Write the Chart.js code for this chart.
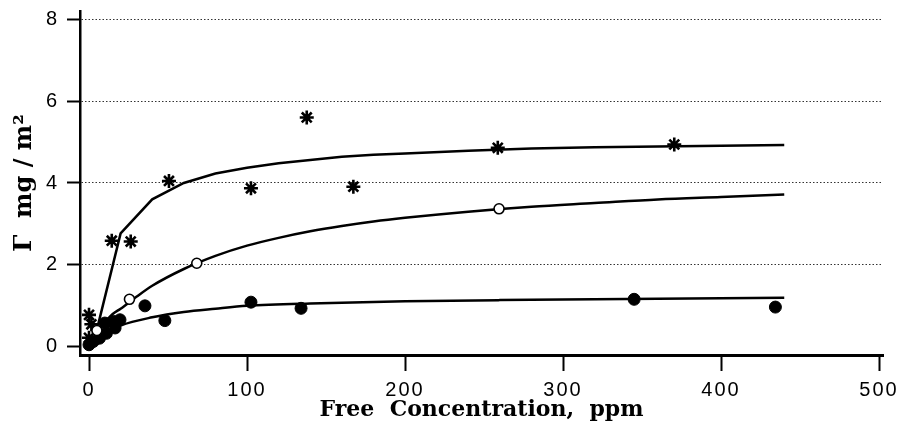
<!DOCTYPE html>
<html lang="en">
<head>
<meta charset="UTF-8">
<title>Adsorption isotherms</title>
<script src="https://cdn.jsdelivr.net/npm/chart.js"></script>
<style>
  html, body { margin: 0; padding: 0; background: #fff; }
  #wrap { width: 902px; height: 425px; }
</style>
</head>
<body>
<div id="wrap"><canvas id="chart" width="902" height="425"></canvas></div>
<script>
// values
const xTicks = [0, 100, 200, 300, 400, 500];
const yTicks = [0, 2, 4, 6, 8];

// asterisks
const starConc = [0, 1.5, 0, 14.4, 26.4, 50.6, 102.5, 137.8, 167.3, 258.7, 370.4];
const starAds  = [0.78, 0.55, 0.22, 2.59, 2.57, 4.05, 3.87, 5.60, 3.91, 4.86, 4.94];
const starFitConc = [5, 20, 40, 60, 80, 100, 120, 140, 160, 180, 200, 240, 280, 320, 360, 400, 440];
const starFitAds  = [0.42, 2.77, 3.60, 4.00, 4.23, 4.37, 4.48, 4.56, 4.64, 4.69, 4.72, 4.79, 4.84, 4.87, 4.89, 4.91, 4.93];

// open circles
const openConc = [5, 25.6, 68.2, 259.5];
const openAds  = [0.40, 1.16, 2.04, 3.37];
const openFitConc = [6, 15, 20, 30, 40, 60, 80, 100, 120, 140, 160, 180, 200, 240, 280, 320, 360, 400, 440];
const openFitAds  = [0.42, 0.80, 0.93, 1.22, 1.49, 1.90, 2.22, 2.47, 2.66, 2.82, 2.95, 3.06, 3.15, 3.30, 3.42, 3.51, 3.60, 3.66, 3.72];

// filled circles
const filledConc = [0, 2.7, 6.6, 11, 10, 15.4, 16.5, 19.6, 35.4, 48, 102.5, 134.2, 345, 434.4];
const filledAds  = [0.05, 0.13, 0.21, 0.33, 0.58, 0.62, 0.46, 0.66, 1.00, 0.64, 1.09, 0.94, 1.16, 0.97];
const filledFitConc = [0, 10, 20, 40, 60, 80, 100, 140, 200, 260, 320, 380, 440];
const filledFitAds  = [0.06, 0.33, 0.52, 0.72, 0.85, 0.93, 1.00, 1.06, 1.11, 1.14, 1.16, 1.18, 1.20];

const pts = (xs, ys) => xs.map((x, i) => ({x: x, y: ys[i]}));

const curve = (xs, ys, smooth) => ({
    data: pts(xs, ys),
    showLine: true,
    borderColor: '#000',
    borderWidth: 2.5,
    pointRadius: 0,
    cubicInterpolationMode: smooth ? 'monotone' : 'default',
    tension: 0,
    order: 2
});

// wider spaced tick numbers, like the original typesetting
function spacedLabels(s) {
    const orig = s.drawLabels;
    s.drawLabels = function (area) {
        this.ctx.save();
        this.ctx.letterSpacing = '2px';
        orig.call(this, area);
        this.ctx.restore();
    };
}

new Chart(document.getElementById('chart'), {
    type: 'scatter',
    data: {
        datasets: [
            curve(starFitConc, starFitAds, false),
            curve(openFitConc, openFitAds, true),
            curve(filledFitConc, filledFitAds, true),
            {
                data: pts(filledConc, filledAds),
                pointStyle: 'circle', pointRadius: 6,
                backgroundColor: '#000', borderColor: '#000', borderWidth: 1,
                order: 1
            },
            {
                data: pts(openConc, openAds),
                pointStyle: 'circle', pointRadius: 5,
                backgroundColor: '#fff', borderColor: '#000', borderWidth: 1.6,
                order: 0
            },
            {
                data: pts(starConc, starAds),
                pointStyle: 'star', pointRadius: 7,
                backgroundColor: '#000', borderColor: '#000', borderWidth: 2.6,
                order: 0
            }
        ]
    },
    options: {
        responsive: false,
        animation: false,
        clip: false,
        layout: { padding: { top: 11, right: 19, left: 0, bottom: 0 } },
        plugins: { legend: { display: false }, tooltip: { enabled: false } },
        scales: {
            x: {
                type: 'linear',
                min: -5.7,
                max: 502.5,
                afterBuildTicks: s => { s.ticks = xTicks.map(v => ({value: v})); },
                afterFit: s => { s.height = 70; s.paddingLeft = 0; s.paddingRight = 0; spacedLabels(s); },
                grid: {
                    drawOnChartArea: false,
                    drawTicks: true,
                    tickLength: 16,
                    tickWidth: 2,
                    tickColor: '#000'
                },
                border: { display: true, color: '#000', width: 3 },
                ticks: {
                    color: '#000',
                    padding: 7,
                    maxRotation: 0,
                    font: { family: 'Liberation Sans', size: 20 }
                },
                title: {
                    display: true,
                    text: 'Free  Concentration,  ppm',
                    color: '#000',
                    padding: { top: 0, bottom: 2 },
                    font: { family: 'DejaVu Serif', size: 22, weight: 'bold' }
                }
            },
            y: {
                type: 'linear',
                min: -0.2,
                max: 8.2,
                afterBuildTicks: s => { s.ticks = yTicks.map(v => ({value: v})); },
                afterFit: s => { s.width = 80; s.paddingTop = 0; s.paddingBottom = 0; spacedLabels(s); },
                grid: {
                    drawOnChartArea: true,
                    color: c => (c.tick && c.tick.value === 0) ? 'rgba(0,0,0,0)' : '#333',
                    lineWidth: 1,
                    drawTicks: true,
                    tickLength: 13,
                    tickWidth: 2,
                    tickColor: '#000'
                },
                border: { display: true, color: '#000', width: 2.5, dash: [1.5, 2] },
                ticks: {
                    color: '#000',
                    padding: 8,
                    font: { family: 'Liberation Sans', size: 20 }
                },
                title: {
                    display: true,
                    text: 'Γ  mg / m²',
                    color: '#000',
                    padding: { top: 10, bottom: 0 },
                    font: { family: 'DejaVu Serif', size: 24, weight: 'bold' }
                }
            }
        }
    }
});
</script>
</body>
</html>
